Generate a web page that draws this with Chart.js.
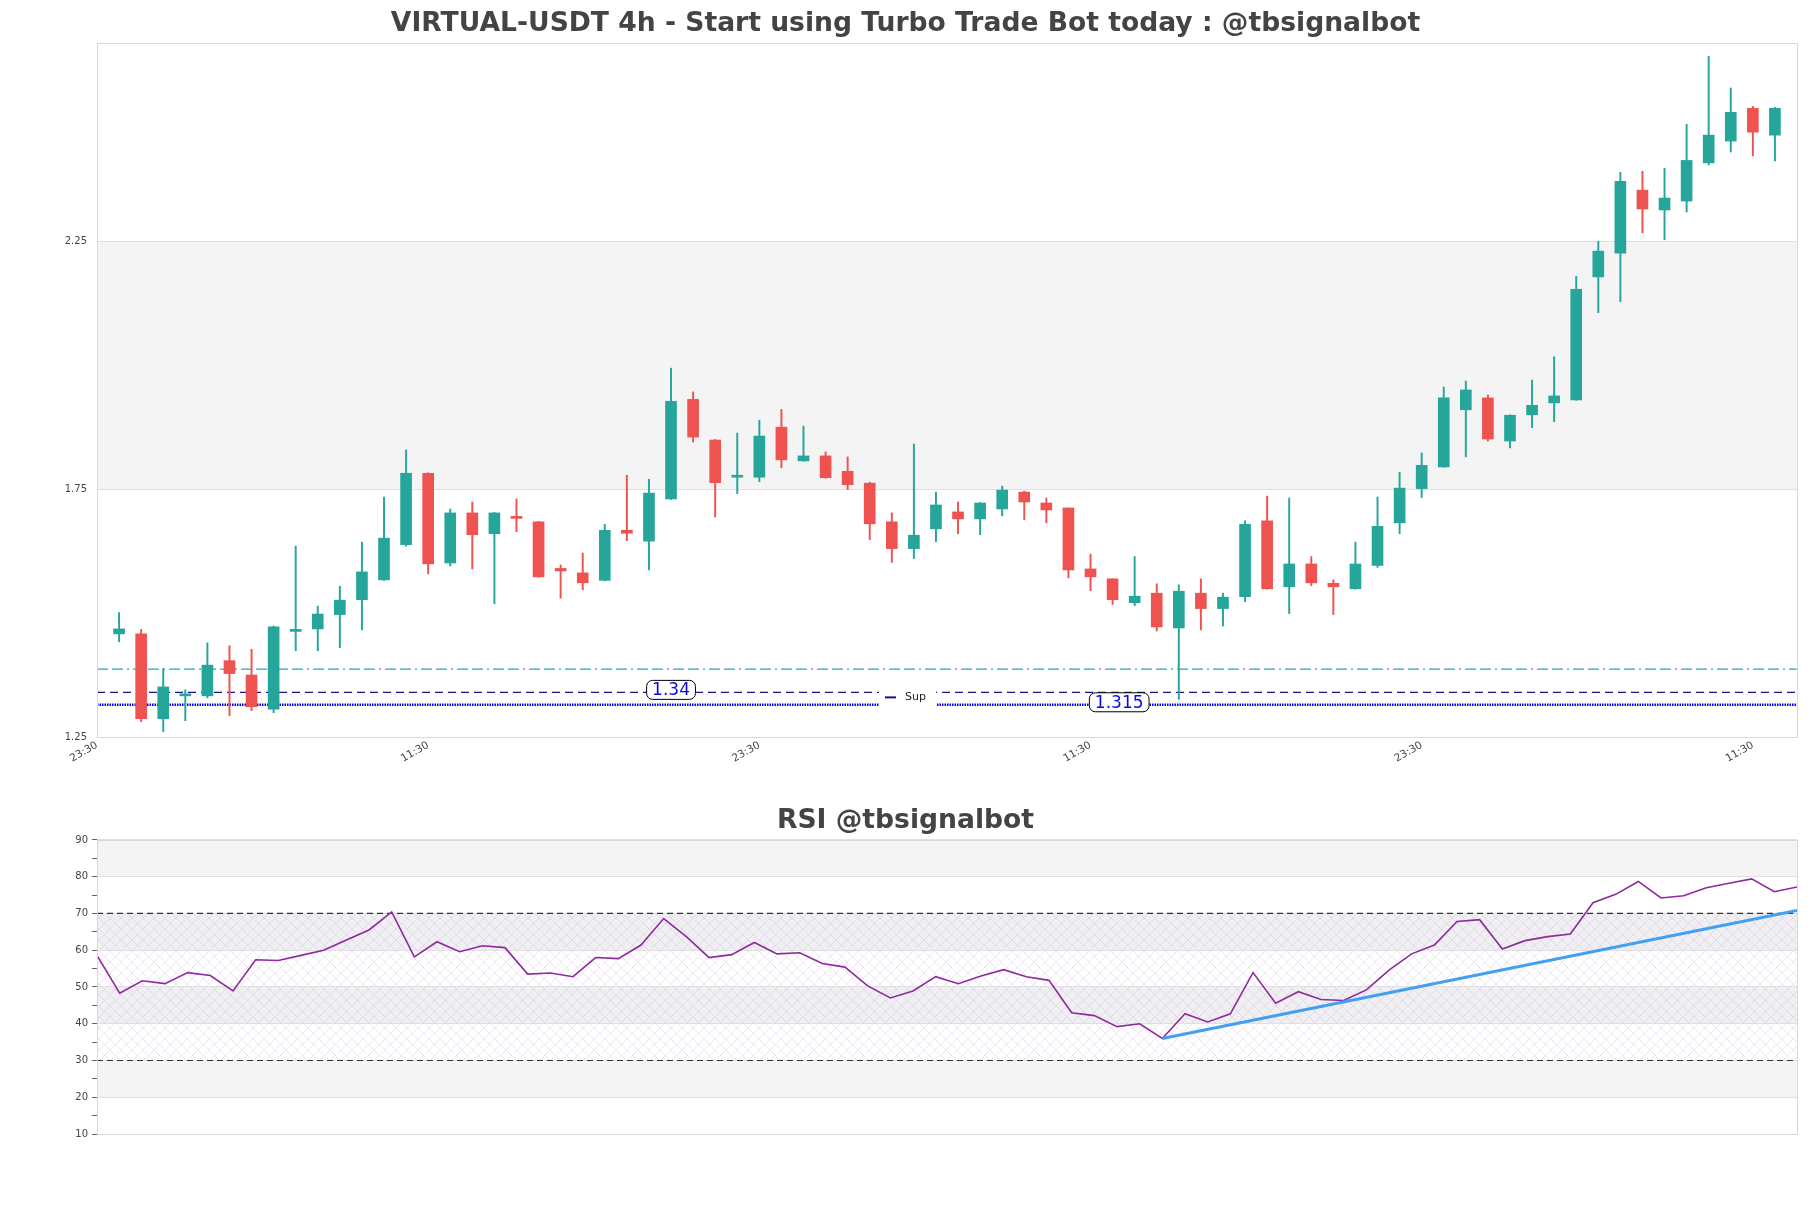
<!DOCTYPE html>
<html><head><meta charset="utf-8">
<script src="https://cdn.jsdelivr.net/npm/chart.js@4.4.1/dist/chart.umd.min.js"></script>
<style>
html,body{margin:0;padding:0;background:#fff;}
#box1{position:absolute;left:0;top:0;width:1811px;height:775px;}
#box2{position:absolute;left:0;top:775px;width:1811px;height:433px;}
</style></head><body>
<div id="box1"><canvas id="c1"></canvas></div>
<div id="box2"><canvas id="c2"></canvas></div>
<script>
// ---------- DATA ----------
const opens  = [1.458,1.458,1.287,1.333,1.333,1.404,1.375,1.306,1.463,1.468,1.497,1.527,1.567,1.638,1.782,1.601,1.702,1.660,1.695,1.684,
                1.590,1.581,1.566,1.667,1.645,1.730,1.931,1.849,1.774,1.774,1.875,1.807,1.817,1.786,1.762,1.684,1.630,1.670,1.704,1.690,
                1.710,1.744,1.722,1.712,1.589,1.569,1.521,1.540,1.470,1.540,1.509,1.533,1.686,1.553,1.599,1.560,1.549,1.596,1.682,1.751,
                1.795,1.910,1.934,1.847,1.900,1.924,1.930,2.178,2.226,2.353,2.313,2.331,2.408,2.452,2.518,2.464];
const highs  = [1.501,1.467,1.388,1.345,1.440,1.434,1.427,1.474,1.635,1.514,1.554,1.643,1.734,1.829,1.783,1.710,1.724,1.703,1.730,1.685,
                1.597,1.621,1.679,1.778,1.770,1.994,1.946,1.850,1.863,1.889,1.911,1.877,1.825,1.815,1.764,1.702,1.841,1.744,1.724,1.723,
                1.756,1.746,1.732,1.712,1.619,1.569,1.614,1.559,1.557,1.569,1.540,1.686,1.736,1.732,1.614,1.567,1.643,1.734,1.784,1.823,
                1.956,1.968,1.940,1.900,1.970,2.017,2.179,2.250,2.389,2.391,2.397,2.486,2.623,2.559,2.522,2.520];
const lows   = [1.442,1.281,1.261,1.283,1.329,1.293,1.303,1.299,1.424,1.424,1.430,1.466,1.566,1.635,1.579,1.595,1.589,1.519,1.664,1.572,
                1.530,1.547,1.565,1.646,1.587,1.729,1.845,1.694,1.741,1.765,1.793,1.806,1.772,1.749,1.648,1.602,1.610,1.644,1.660,1.658,
                1.696,1.688,1.682,1.571,1.545,1.517,1.515,1.464,1.326,1.466,1.474,1.523,1.548,1.499,1.555,1.497,1.548,1.592,1.660,1.733,
                1.794,1.815,1.847,1.833,1.874,1.886,1.929,2.106,2.128,2.267,2.253,2.309,2.404,2.430,2.422,2.412];
const closes = [1.468,1.287,1.351,1.335,1.395,1.378,1.311,1.472,1.467,1.498,1.526,1.583,1.651,1.782,1.599,1.702,1.658,1.702,1.691,1.573,
                1.585,1.561,1.667,1.661,1.742,1.927,1.855,1.763,1.777,1.857,1.809,1.817,1.773,1.759,1.680,1.630,1.657,1.718,1.690,1.722,
                1.748,1.724,1.708,1.587,1.573,1.527,1.534,1.472,1.544,1.509,1.532,1.679,1.549,1.599,1.561,1.553,1.599,1.675,1.752,1.798,
                1.934,1.950,1.851,1.899,1.919,1.938,2.153,2.230,2.371,2.315,2.337,2.413,2.464,2.510,2.470,2.518];
const rsiValues = [58.6,48.3,51.7,50.9,53.9,53.1,48.9,57.4,57.2,58.6,60.0,62.8,65.5,70.4,58.2,62.3,59.6,61.2,60.7,53.5,
                   53.8,52.8,58.0,57.7,61.4,68.6,63.7,58.0,58.8,62.1,59.0,59.3,56.4,55.4,50.3,47.0,48.9,52.8,50.9,53.0,
                   54.7,52.8,51.8,43.0,42.2,39.2,40.0,36.0,42.7,40.5,42.7,53.9,45.6,48.7,46.6,46.3,49.2,54.6,59.0,61.4,
                   67.8,68.3,60.3,62.6,63.7,64.4,72.9,75.2,78.7,74.2,74.8,77.0,78.2,79.4,75.9,77.2];
const trendX = [47, 75];
const trendY = [36.0, 70.8];
const xTickPos = [-1, 14, 29, 44, 59, 74];
const xTickLabels = ["23:30", "11:30", "23:30", "11:30", "23:30", "11:30"];
const yTicks = [1.25, 1.75, 2.25];
const resistanceLevel = 1.387;
const supLevel = 1.34;
const lowLevel = 1.315;
const priceLabels = [{x: 25, v: 1.34, text: "1.34"}, {x: 45.3, v: 1.315, text: "1.315"}];
const mainTitle = "VIRTUAL-USDT 4h - Start using Turbo Trade Bot today : @tbsignalbot";
const rsiTitle = "RSI @tbsignalbot";

// ---------- STYLE ----------
const GREEN = '#26a69a', RED = '#ef5350';
const FONT = "'DejaVu Sans', sans-serif";
const TITLE_SIZE = 26.6;
const n = opens.length;
const xMin = -1, xMax = n;

const colors = opens.map((o, i) => closes[i] >= o ? GREEN : RED);
const wickData = opens.map((o, i) => ({x: i, y: [lows[i], highs[i]]}));
const bodyData = opens.map((o, i) => ({x: i, y: [o, closes[i]]}));
const hline = v => [{x: xMin, y: v}, {x: xMax, y: v}];

const frame = {
  id: 'frame',
  afterDraw(chart) {
    const a = chart.chartArea, c = chart.ctx;
    c.save(); c.strokeStyle = '#d9d9d9'; c.lineWidth = 1;
    c.strokeRect(Math.round(a.left) + 0.5, Math.round(a.top) + 0.5, Math.round(a.right - a.left), Math.round(a.bottom - a.top));
    c.restore();
  }
};

const mainBands = {
  id: 'mainBands',
  beforeDraw(chart) {
    const a = chart.chartArea, c = chart.ctx, y = chart.scales.y;
    c.save(); c.fillStyle = '#f4f4f4';
    const t = y.getPixelForValue(2.25), b = y.getPixelForValue(1.75);
    c.fillRect(a.left, t, a.right - a.left, b - t);
    c.restore();
  },
  afterDatasetsDraw(chart) {
    const a = chart.chartArea, c = chart.ctx, x = chart.scales.x, y = chart.scales.y;
    c.save();
    // legend box
    const lx = (a.left + a.right) / 2 - 68, ly = y.getPixelForValue(supLevel) + 5;
    c.fillStyle = '#ffffff';
    c.fillRect(lx, ly - 15, 57, 31);
    c.strokeStyle = '#1a128c'; c.lineWidth = 2; c.setLineDash([]);
    c.beginPath(); c.moveTo(lx + 6, ly); c.lineTo(lx + 17, ly); c.stroke();
    c.fillStyle = '#222'; c.font = "11px " + FONT; c.textBaseline = 'middle'; c.textAlign = 'left';
    c.fillText('Sup', lx + 26, ly);
    // price labels
    c.font = "17px " + FONT; c.textAlign = 'center';
    priceLabels.forEach(p => {
      const px = x.getPixelForValue(p.x), py = y.getPixelForValue(p.v) - 2.5;
      const w = c.measureText(p.text).width + 11, h = 19;
      c.beginPath();
      c.roundRect(px - w / 2, py - h / 2, w, h, 6);
      c.fillStyle = '#fff'; c.fill();
      c.strokeStyle = '#000'; c.lineWidth = 1; c.stroke();
      c.fillStyle = '#0a0ae0';
      c.fillText(p.text, px, py + 1);
    });
    c.restore();
  }
};

new Chart(document.getElementById('c1'), {
  type: 'bar',
  data: {
    datasets: [
      {type: 'line', data: hline(resistanceLevel), borderColor: '#2aa3bd', borderWidth: 1.3, borderDash: [11, 4, 11, 4, 2, 4], pointRadius: 0, order: 9},
      {type: 'line', data: hline(supLevel), borderColor: '#1a128c', borderWidth: 1.4, borderDash: [8, 5], pointRadius: 0, order: 8},
      {type: 'line', data: hline(lowLevel), borderColor: '#0000ee', borderWidth: 2.5, borderDash: [1.5, 1], pointRadius: 0, order: 7},
      {data: wickData, backgroundColor: colors, barThickness: 1.3, grouped: false, order: 2},
      {data: bodyData, backgroundColor: colors, barThickness: 11, minBarLength: 2, grouped: false, order: 1}
    ]
  },
  options: {
    responsive: true, maintainAspectRatio: false, animation: false,
    layout: {padding: {left: 14, right: 14, top: 0, bottom: 0}},
    plugins: {
      legend: {display: false}, tooltip: {enabled: false},
      title: {display: true, text: mainTitle, color: '#444', font: {family: FONT, size: TITLE_SIZE, weight: 'bold'}, padding: {top: 8, bottom: 3}}
    },
    scales: {
      x: {
        type: 'linear', min: xMin, max: xMax, offset: false,
        grid: {display: false}, border: {display: false},
        afterBuildTicks: s => { s.ticks = xTickPos.map(v => ({value: v})); },
        afterFit: s => { s.height = 38; },
        ticks: {autoSkip: false, minRotation: 30, maxRotation: 30, color: '#444', font: {family: FONT, size: 10.5}, padding: -6,
                callback: (v, i) => xTickLabels[i]}
      },
      y: {
        type: 'linear', min: 1.25, max: 2.65,
        grid: {color: '#e0e0e0', drawTicks: false}, border: {display: false},
        afterBuildTicks: s => { s.ticks = yTicks.map(v => ({value: v})); },
        afterFit: s => { s.width = 83; },
        ticks: {color: '#444', font: {family: FONT, size: 10}, padding: 10, callback: v => Number(v).toFixed(2)}
      }
    }
  },
  plugins: [mainBands, frame]
});

// ---------- RSI ----------
function hatchPattern(ctx) {
  const t = document.createElement('canvas'); t.width = 11; t.height = 11;
  const g = t.getContext('2d');
  g.strokeStyle = 'rgba(175,140,195,0.30)'; g.lineWidth = 0.7;
  g.beginPath(); g.moveTo(0, 0); g.lineTo(11, 11); g.moveTo(0, 11); g.lineTo(11, 0); g.stroke();
  return ctx.createPattern(t, 'repeat');
}
const rsiBands = {
  id: 'rsiBands',
  beforeDraw(chart) {
    const a = chart.chartArea, c = chart.ctx, y = chart.scales.y;
    c.save();
    [[80, 90], [60, 70], [40, 50], [20, 30]].forEach(([lo, hi]) => {
      const t = y.getPixelForValue(hi), b = y.getPixelForValue(lo);
      c.fillStyle = (lo >= 30 && hi <= 70) ? '#f0eff2' : '#f4f4f4';
      c.fillRect(a.left, t, a.right - a.left, b - t);
    });
    const t = y.getPixelForValue(70), b = y.getPixelForValue(30);
    c.fillStyle = hatchPattern(c);
    c.fillRect(a.left, t, a.right - a.left, b - t);
    c.restore();
  }
};
const rsiLevel = v => [{x: 0, y: v}, {x: rsiValues.length - 1, y: v}];

new Chart(document.getElementById('c2'), {
  type: 'line',
  data: {
    datasets: [
      {data: rsiLevel(70), borderColor: '#333', borderWidth: 1.2, borderDash: [6, 4], pointRadius: 0, order: 5},
      {data: rsiLevel(30), borderColor: '#333', borderWidth: 1.2, borderDash: [6, 4], pointRadius: 0, order: 4},
      {data: rsiValues.map((v, i) => ({x: i, y: v})), borderColor: '#8e2a9e', borderWidth: 1.6, pointRadius: 0, tension: 0, order: 3},
      {data: trendX.map((v, i) => ({x: v, y: trendY[i]})), borderColor: '#42a0f0', borderWidth: 3, pointRadius: 0, order: 1}
    ]
  },
  options: {
    responsive: true, maintainAspectRatio: false, animation: false,
    layout: {padding: {left: 14, right: 14, top: 0, bottom: 74}},
    plugins: {
      legend: {display: false}, tooltip: {enabled: false},
      title: {display: true, text: rsiTitle, color: '#444', font: {family: FONT, size: TITLE_SIZE, weight: 'bold'}, padding: {top: 30, bottom: 3}}
    },
    scales: {
      x: {type: 'linear', min: 0, max: rsiValues.length - 1, display: false},
      y: {
        type: 'linear', min: 10, max: 90,
        border: {display: false},
        grid: {color: c => (c.tick && c.tick.value % 10 === 0) ? '#e0e0e0' : 'rgba(0,0,0,0)', tickColor: '#666', tickLength: 5, drawTicks: true},
        afterFit: s => { s.width = 83; },
        ticks: {stepSize: 5, color: '#444', font: {family: FONT, size: 10}, padding: 4,
                callback: v => (v % 10 === 0 ? String(v) : '')}
      }
    }
  },
  plugins: [rsiBands, frame]
});
</script>
</body></html>
